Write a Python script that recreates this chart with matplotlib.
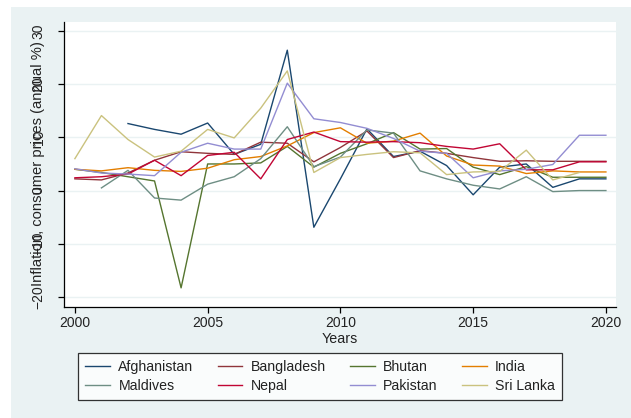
import matplotlib
matplotlib.use('Agg')
import matplotlib.pyplot as plt
from matplotlib.patches import Rectangle
import numpy as np

nan = np.nan
years = list(range(2000, 2021))

afghanistan = [nan, nan, 12.6, 11.5, 10.6, 12.7, 6.8, 8.7, 26.4, -6.9, 2.2, 11.6, 6.4, 7.4, 4.7, -0.8, 4.4, 5.0, 0.6, 2.2, 2.2]
bangladesh = [2.2, 2.0, 3.3, 5.7, 7.3, 7.0, 6.8, 9.1, 8.9, 5.4, 8.1, 11.2, 6.2, 7.5, 7.0, 6.2, 5.5, 5.6, 5.5, 5.5, 5.5]
bhutan = [4.0, 3.4, 2.6, 1.8, -18.3, 5.0, 5.0, 5.2, 8.3, 4.4, 7.0, 8.8, 10.9, 7.8, 7.9, 4.4, 3.0, 4.5, 2.5, 2.5, 2.5]
india = [4.0, 3.7, 4.3, 3.8, 3.6, 4.2, 5.8, 6.4, 8.4, 10.9, 11.8, 8.9, 9.3, 10.8, 6.5, 4.8, 4.6, 3.2, 3.7, 3.5, 3.5]
maldives = [nan, 0.5, 3.8, -1.4, -1.8, 1.2, 2.6, 6.0, 12.0, 4.5, 6.3, 11.4, 10.8, 3.7, 2.2, 1.0, 0.3, 2.6, -0.2, 0.0, 0.0]
nepal = [2.4, 2.6, 3.1, 5.7, 2.8, 6.6, 7.2, 2.2, 9.6, 11.0, 9.2, 9.1, 9.2, 9.0, 8.3, 7.8, 8.8, 3.9, 3.9, 5.4, 5.4]
pakistan = [4.1, 3.3, 3.1, 2.8, 7.2, 8.9, 7.8, 7.8, 20.2, 13.5, 12.8, 11.7, 9.8, 7.4, 7.0, 2.4, 3.7, 4.0, 4.9, 10.4, 10.4]
sri_lanka = [6.0, 14.1, 9.6, 6.3, 7.4, 11.5, 9.9, 15.5, 22.5, 3.4, 6.2, 6.8, 7.3, 7.1, 3.0, 3.5, 3.6, 7.6, 2.0, 3.4, nan]

countries = ['Afghanistan', 'Bangladesh', 'Bhutan', 'India',
             'Maldives', 'Nepal', 'Pakistan', 'Sri Lanka']
series = [afghanistan, bangladesh, bhutan, india,
          maldives, nepal, pakistan, sri_lanka]
# stata s2color palette
colors = ['#1a476f', '#90353b', '#55752f', '#e37e00',
          '#6e8e84', '#c10534', '#938dd2', '#cac27e']

plt.rcParams['font.family'] = ['Liberation Sans', 'DejaVu Sans']

fig = plt.figure(figsize=(6.31, 4.18), dpi=100)
fig.patch.set_facecolor('white')
fig.patches.append(Rectangle((11/631, 0), 1, 1 - 7/418, transform=fig.transFigure,
                             facecolor='#eaf2f3', edgecolor='none', zorder=-10))

ax = fig.add_axes([64/631, 1 - 307/418, 552/631, 285/418])
ax.set_facecolor('white')

lines = {}
for name, vals, c in zip(countries, series, colors):
    lines[name], = ax.plot(years, vals, color=c, lw=1.0, label=name)

ax.set_xlim(1999.59, 2020.38)
ax.set_ylim(-21.9, 31.7)
ax.set_xticks([2000, 2005, 2010, 2015, 2020])
ax.set_yticks([-20, -10, 0, 10, 20, 30])
ax.grid(axis='y', color='#eaf2f3', lw=1.0)
ax.set_axisbelow(True)

for s in ['top', 'right']:
    ax.spines[s].set_visible(False)
for s in ['left', 'bottom']:
    ax.spines[s].set_color('#000000')
    ax.spines[s].set_linewidth(0.9)

ax.tick_params(axis='both', direction='out', length=4.3, width=0.9,
               labelsize=10, colors='#000000', labelcolor='#222222')
ax.tick_params(axis='x', pad=2.5)
ax.tick_params(axis='y', pad=9)
for lab in ax.get_yticklabels():
    lab.set_rotation(90)
    lab.set_va('center')

ax.set_xlabel('Years', fontsize=10.3, color='#222222', labelpad=1)
ax.set_ylabel('Inflation, consumer prices (annual %)', fontsize=10.6, color='#222222')
ax.yaxis.set_label_coords(-19/552, 0.505)

order = ['Afghanistan', 'Maldives', 'Bangladesh', 'Nepal',
         'Bhutan', 'Pakistan', 'India', 'Sri Lanka']
leg = fig.legend([lines[n] for n in order], order, ncol=4,
                 loc='upper left', bbox_to_anchor=(78/631, 1 - 353/418),
                 bbox_transform=fig.transFigure, borderaxespad=0,
                 prop={'size': 10.2}, frameon=True, fancybox=False,
                 handlelength=1.75, handletextpad=0.6, columnspacing=1.7,
                 labelspacing=0.35, borderpad=0.5)
leg.get_frame().set_edgecolor('#000000')
leg.get_frame().set_linewidth(0.9)
leg.get_frame().set_facecolor('white')
for t in leg.get_texts():
    t.set_color('#222222')

fig.savefig('out.png', dpi=100)
